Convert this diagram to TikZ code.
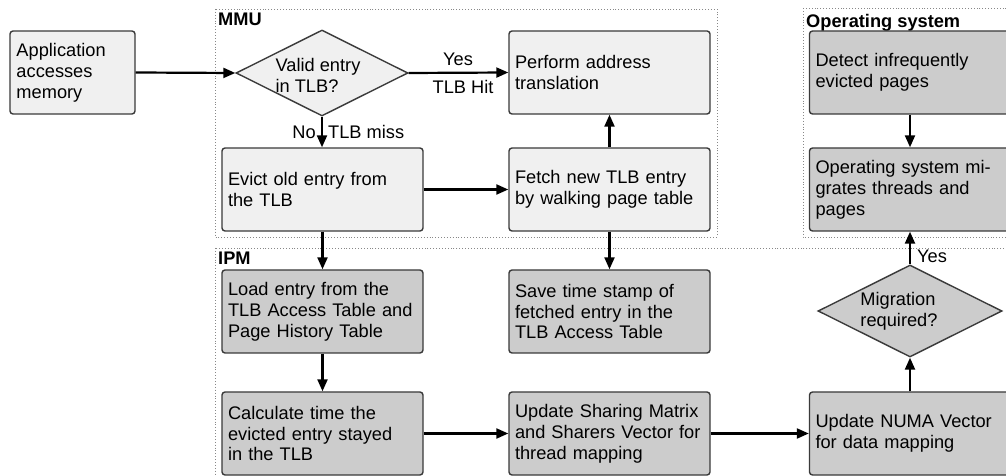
\documentclass[tikz,border=0pt]{standalone}
\usepackage{fontspec}
\setmainfont{Liberation Sans}
\usetikzlibrary{shapes.geometric,arrows.meta}
\definecolor{lightbox}{HTML}{F0F0F0}
\definecolor{darkbox}{HTML}{CCCCCC}
\definecolor{edgegray}{HTML}{3A3A3A}
\definecolor{groupgray}{HTML}{888888}
\begin{document}
\begin{tikzpicture}[x=1bp,y=-1bp,
  font=\fontsize{18.3}{21}\selectfont,
  box/.style={draw=edgegray, line width=1.4bp, rounded corners=3bp, minimum height=83bp,
              inner xsep=6bp, inner ysep=0bp, text width=189bp, align=left, anchor=center},
  lbox/.style={box, fill=lightbox},
  dbox/.style={box, fill=darkbox},
  decision/.style={diamond, shape aspect=2, draw=edgegray, line width=1.4bp, inner sep=0pt},
  dtext/.style={inner sep=0pt, align=left, anchor=center},
  conn/.style={line width=2.2bp, -{Triangle[length=12bp,width=10bp]}},
  group/.style={draw=groupgray, dotted, line width=0.9bp},
  grouplabel/.style={font=\fontsize{18.3}{21}\selectfont\bfseries, anchor=north west, inner sep=0bp},
  elabel/.style={inner sep=0bp}
]
\useasboundingbox (0,0) rectangle (1006,476);
\clip (0,0) rectangle (1006,476);
\fill[white] (0,0) rectangle (1006,476);

% groups
\draw[group] (215,9) rectangle (717,237);
\draw[group] (803,8) rectangle (1030,237);
\draw[group] (215,248) rectangle (1030,500);
\node[grouplabel] (mmulbl) at (218,13) {MMU};
\node[grouplabel] (oslbl) at (806,14) {Operating system};
\node[grouplabel] (ipmlbl) at (218,252) {IPM};

% nodes
\node[lbox, text width=112bp, inner xsep=6.5bp] (app) at (72.5,72.5) {Application\\accesses\\memory};
\node[decision, fill=lightbox, minimum width=172bp, minimum height=86bp] (valid) at (322,73) {};
\node[dtext] (validtxt) at (318,75) {Valid entry\\in TLB?};
\node[lbox] (perform) at (609.5,72.5) {Perform address\\translation};
\node[lbox] (evict) at (322.5,189.5) {Evict old entry from\\the TLB};
\node[lbox] (fetch) at (609.5,189.5) {Fetch new TLB entry\\by walking page table};
\node[dbox] (detect) at (910,72.5) {Detect infrequently\\evicted pages};
\node[dbox] (osmig) at (910,189.5) {Operating system mi-\\grates threads and\\pages};
\node[dbox] (load) at (322.5,311.5) {Load entry from the\\TLB Access Table and\\Page History Table};
\node[dbox] (save) at (609.5,311.5) {Save time stamp of\\fetched entry in the\\TLB Access Table};
\node[decision, fill=darkbox, minimum width=184bp, minimum height=92bp] (migr) at (910,311) {};
\node[dtext] (migrtxt) at (899,311) {Migration\\required?};
\node[dbox] (calc) at (322.5,433.5) {Calculate time the\\evicted entry stayed\\in the TLB};
\node[dbox] (upd) at (609.5,433.5) {Update Sharing Matrix\\and Sharers Vector for\\thread mapping};
\node[dbox] (numa) at (910,433.5) {Update NUMA Vector\\for data mapping};

% connectors
\draw[conn] (app.east) -- (valid.west);
\draw[conn] (valid.east) -- (perform.west);
\node[elabel, anchor=base] (yes1) at (458,66) {Yes};
\node[elabel, anchor=base] (hit) at (463,94) {TLB Hit};
\draw[conn] (valid.south) -- (valid.south |- evict.north);
\node[elabel, anchor=base east] (no1) at (316,139) {No};
\node[elabel, anchor=base west] (miss) at (328,139) {TLB miss};
\draw[conn] (evict.east) -- (fetch.west);
\draw[conn] (fetch.north) -- (perform.south);
\draw[conn] (evict.south) -- (load.north);
\draw[conn] (fetch.south) -- (save.north);
\draw[conn] (load.south) -- (calc.north);
\draw[conn] (calc.east) -- (upd.west);
\draw[conn] (upd.east) -- (numa.west);
\draw[conn] (numa.north) -- (migr.south);
\draw[conn] (migr.north) -- (osmig.south);
\node[elabel, anchor=base west] (yes2) at (917,263) {Yes};
\draw[conn] (detect.south) -- (osmig.north);
\end{tikzpicture}
\end{document}
